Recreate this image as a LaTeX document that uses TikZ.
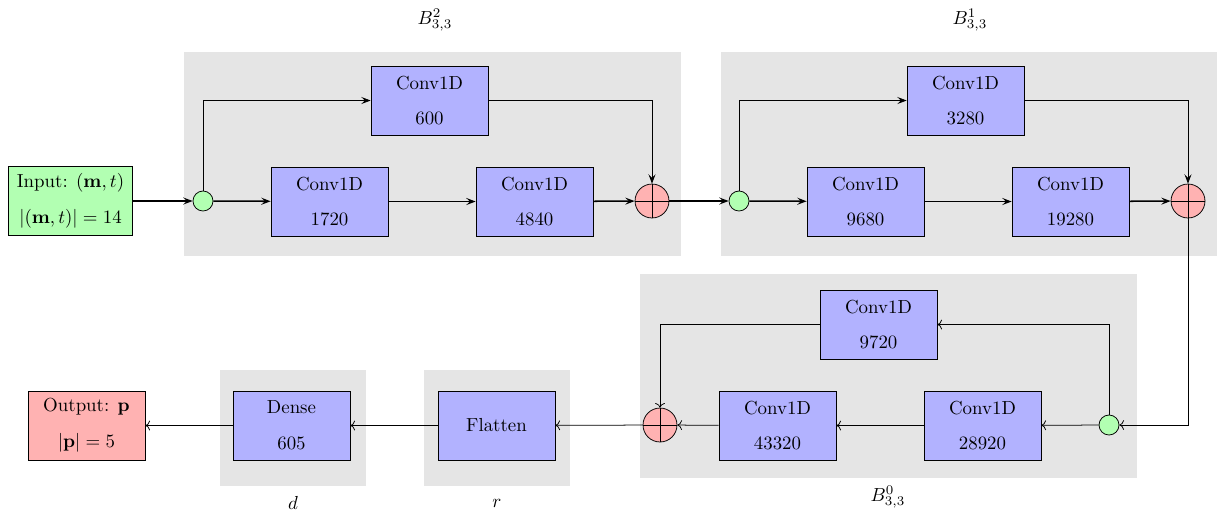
\documentclass[tikz,border=0pt]{standalone}
\usetikzlibrary{arrows.meta}
\begin{document}
\begin{tikzpicture}[x=0.53pt,y=-0.53pt,
  conv/.style={draw, fill=blue!30, minimum width=62pt, minimum height=36.6pt, align=center, inner sep=0pt},
  inbox/.style={draw, fill=green!30, minimum width=66pt, minimum height=36.6pt, align=center, inner sep=0pt},
  outbox/.style={draw, fill=red!30, minimum width=62pt, minimum height=36.6pt, align=center, inner sep=0pt},
  split/.style={draw, circle, fill=green!30, minimum size=10.6pt, inner sep=0pt},
  addn/.style={draw, circle, fill=red!30, minimum size=18pt, inner sep=0pt,
    path picture={\draw (path picture bounding box.north) -- (path picture bounding box.south)
      (path picture bounding box.west) -- (path picture bounding box.east);}},
  bg/.style={fill=black!10},
  main/.style={-{Stealth[length=5pt,inset=2pt]}, thick},
  skip/.style={-{Stealth[length=5pt,inset=2pt]}, thin},
  link/.style={->, thin}]
\useasboundingbox (0,0) rectangle (1219,512);
% backgrounds
\fill[bg] (184,52) rectangle (681,256);
\fill[bg] (721,52) rectangle (1217,256);
\fill[bg] (640,274) rectangle (1137,478);
\fill[bg] (424,370) rectangle (570,486);
\fill[bg] (220,370) rectangle (366,486);
% labels
\node (lb2) at (435,20) {$B^{2}_{3,3}$};
\node (lb1) at (970,20) {$B^{1}_{3,3}$};
\node (lb0) at (888,497) {$B^{0}_{3,3}$};
\node (lr) at (497,503) {$r$};
\node (ld) at (293,503) {$d$};
% input
\node[inbox] (in) at (70.5,201) {Input: $(\mathbf{m},t)$\\[7pt]$|(\mathbf{m},t)|=14$};
% block 2
\node[split] (s2) at (203,201) {};
\node[conv] (c600) at (429.5,100.5) {Conv1D\\[7pt]600};
\node[conv] (c1720) at (329.5,201.5) {Conv1D\\[7pt]1720};
\node[conv] (c4840) at (534.5,201.5) {Conv1D\\[7pt]4840};
\node[addn] (a2) at (652,201) {};
% block 1
\node[split] (s1) at (739,201) {};
\node[conv] (c3280) at (965.5,100.5) {Conv1D\\[7pt]3280};
\node[conv] (c9680) at (865.5,201.5) {Conv1D\\[7pt]9680};
\node[conv] (c19280) at (1070.5,201.5) {Conv1D\\[7pt]19280};
\node[addn] (a1) at (1188,201) {};
% block 0
\node[split] (s0) at (1109,425) {};
\node[conv] (c9720) at (878.5,324.5) {Conv1D\\[7pt]9720};
\node[conv] (c28920) at (982.5,425.5) {Conv1D\\[7pt]28920};
\node[conv] (c43320) at (777.5,425.5) {Conv1D\\[7pt]43320};
\node[addn] (a0) at (660,425) {};
% tail
\node[conv] (flat) at (496.5,425.5) {Flatten};
\node[conv] (dense) at (291.5,425.5) {Dense\\[7pt]605};
\node[outbox] (out) at (86.5,425.5) {Output: $\mathbf{p}$\\[7pt]$|\mathbf{p}|=5$};
% connections top
\draw[main] (in) -- (s2);
\draw[main] (s2) -- (c1720);
\draw[main] (c1720) -- (c4840);
\draw[main] (c4840) -- (a2);
\draw[skip] (s2) |- (c600);
\draw[skip] (c600) -| (a2);
\draw[main] (a2) -- (s1);
\draw[main] (s1) -- (c9680);
\draw[main] (c9680) -- (c19280);
\draw[main] (c19280) -- (a1);
\draw[skip] (s1) |- (c3280);
\draw[skip] (c3280) -| (a1);
% bottom
\draw[link] (a1) |- (s0);
\draw[link] (s0) -- (c28920);
\draw[link] (c28920) -- (c43320);
\draw[link] (c43320) -- (a0);
\draw[link] (s0) |- (c9720);
\draw[link] (c9720) -| (a0);
\draw[link] (a0) -- (flat);
\draw[link] (flat) -- (dense);
\draw[link] (dense) -- (out);
\end{tikzpicture}
\end{document}
